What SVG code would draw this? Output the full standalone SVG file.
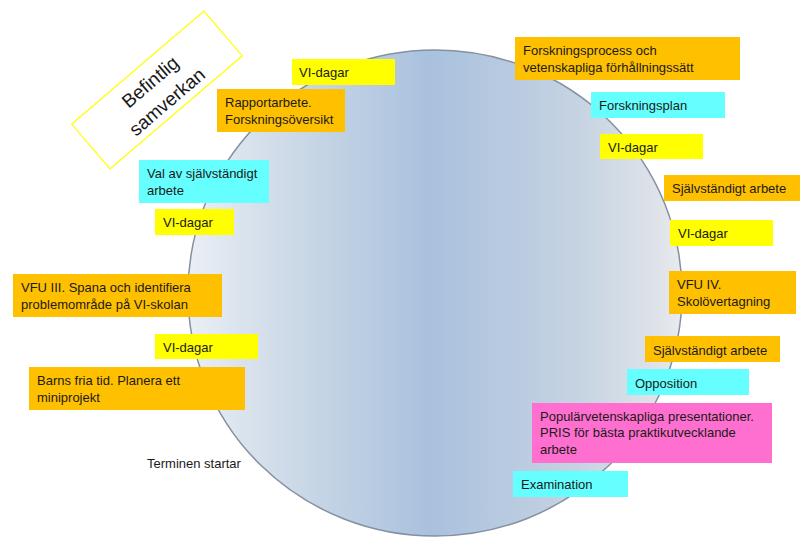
<svg xmlns="http://www.w3.org/2000/svg" width="800" height="537" viewBox="0 0 800 537">
<style>
  text { font-family: "Liberation Sans", Arial, sans-serif; font-size: 13px; fill: #1a1a1a; }
  .or { fill: #ffc000; }
  .ye { fill: #ffff00; }
  .cy { fill: #66ffff; }
  .pk { fill: #ff6fcf; }
</style>
<defs>
  <linearGradient id="cg" x1="188" y1="0" x2="682" y2="0" gradientUnits="userSpaceOnUse">
    <stop offset="0" stop-color="#eaeff5"/>
    <stop offset="0.19" stop-color="#cfdbe8"/>
    <stop offset="0.49" stop-color="#a9c1de"/>
    <stop offset="0.79" stop-color="#c6d3e2"/>
    <stop offset="0.95" stop-color="#dfe3e9"/>
    <stop offset="1" stop-color="#e8ebef"/>
  </linearGradient>
</defs>
<rect width="800" height="537" fill="#ffffff"/>
<g id="circle">
  <ellipse cx="435" cy="293" rx="247" ry="243" fill="url(#cg)" stroke="#8590a0" stroke-width="1.5"/>
</g>
<g id="befintlig">
  <g transform="translate(157,90) rotate(-40.5)">
    <rect x="-87" y="-29.5" width="174" height="59" fill="#ffffff" stroke="#ffff00" stroke-width="1.2"/>
    <text x="0" y="-4" text-anchor="middle" style="font-size:19px">Befintlig</text>
    <text x="0" y="22" text-anchor="middle" style="font-size:19px">samverkan</text>
  </g>
</g>
<g id="n-vi1"><rect class="ye" x="292" y="59" width="103" height="26"/><text x="299" y="77">VI-dagar</text></g>
<g id="n-rapport"><rect class="or" x="217" y="89" width="128" height="43"/><text x="225" y="107">Rapportarbete.</text><text x="225" y="124">Forskningsöversikt</text></g>
<g id="n-forskprocess"><rect class="or" x="515" y="37" width="225" height="43"/><text x="523" y="55">Forskningsprocess och</text><text x="523" y="72">vetenskapliga förhållningssätt</text></g>
<g id="n-forskplan"><rect class="cy" x="591" y="92" width="134" height="26"/><text x="599" y="110">Forskningsplan</text></g>
<g id="n-vi2"><rect class="ye" x="600" y="134" width="103" height="25"/><text x="608" y="152">VI-dagar</text></g>
<g id="n-sjalv1"><rect class="or" x="664" y="175" width="136" height="26"/><text x="672" y="193">Självständigt arbete</text></g>
<g id="n-vi3"><rect class="ye" x="670" y="220" width="103" height="26"/><text x="678" y="238">VI-dagar</text></g>
<g id="n-vfu4"><rect class="or" x="669" y="271" width="127" height="43"/><text x="677" y="289">VFU IV.</text><text x="677" y="306">Skolövertagning</text></g>
<g id="n-sjalv2"><rect class="or" x="645" y="336" width="135" height="26"/><text x="653" y="355">Självständigt arbete</text></g>
<g id="n-opposition"><rect class="cy" x="627" y="369" width="122" height="26"/><text x="635" y="388">Opposition</text></g>
<g id="n-popular"><rect class="pk" x="532" y="403" width="240" height="60"/><text x="540" y="421">Populärvetenskapliga presentationer.</text><text x="540" y="437">PRIS för bästa praktikutvecklande</text><text x="540" y="454">arbete</text></g>
<g id="n-examination"><rect class="cy" x="513" y="471" width="115" height="26"/><text x="521" y="489">Examination</text></g>
<g id="n-val"><rect class="cy" x="139" y="160" width="130" height="43"/><text x="147" y="178">Val av självständigt</text><text x="147" y="195">arbete</text></g>
<g id="n-vi4"><rect class="ye" x="155" y="209" width="79" height="26"/><text x="163" y="227">VI-dagar</text></g>
<g id="n-vfu3"><rect class="or" x="13" y="274" width="209" height="43"/><text x="21" y="292">VFU III. Spana och identifiera</text><text x="21" y="309">problemområde på VI-skolan</text></g>
<g id="n-vi5"><rect class="ye" x="155" y="334" width="103" height="25"/><text x="163" y="352">VI-dagar</text></g>
<g id="n-barns"><rect class="or" x="29" y="367" width="216" height="43"/><text x="37" y="385">Barns fria tid. Planera ett</text><text x="37" y="402">miniprojekt</text></g>
<g id="n-terminen"><text x="147" y="468">Terminen startar</text></g>
</svg>
